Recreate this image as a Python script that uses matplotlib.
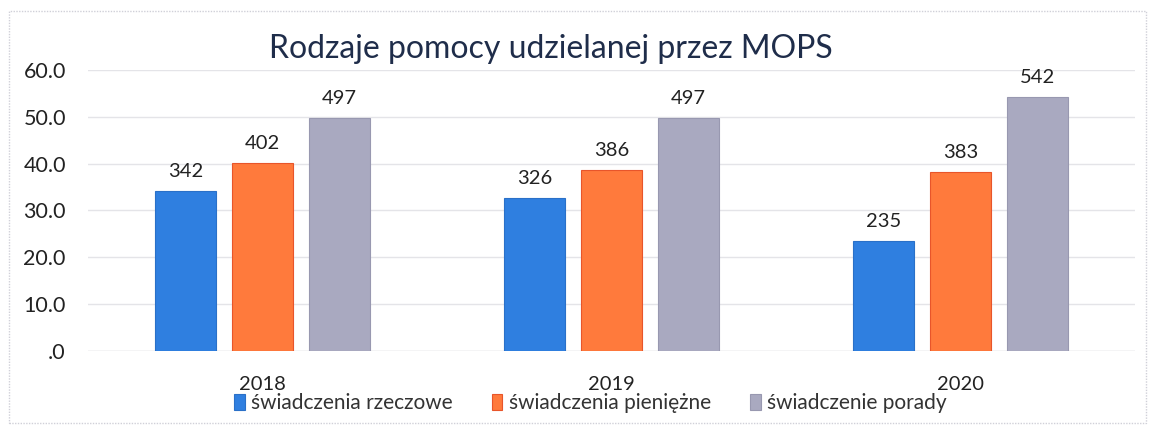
import numpy as np
import matplotlib
matplotlib.use('Agg')
import matplotlib.pyplot as plt
from matplotlib.ticker import FuncFormatter

# ── dane ────────────────────────────────────────────
lata      = ["2018", "2019", "2020"]
serie     = ["świadczenia rzeczowe", "świadczenia pieniężne", "świadczenie porady"]
rzeczowe  = [342, 326, 235]
pieniezne = [402, 386, 383]
porady    = [497, 497, 542]
kolory    = ["#2f7fe0", "#ff7a3c", "#a9a9c0"]
krawedzie = ["#2a70c8", "#e8552a", "#9898b0"]

plt.rcParams['font.family'] = ['Lato', 'DejaVu Sans']

fig = plt.figure(figsize=(11.54, 4.32), dpi=100)
ax = fig.add_axes([0.0763, 0.1875, 0.907, 0.6505])

x = np.arange(len(lata))
w = 0.175
step = 0.22
for i, (vals, c, ec, lab) in enumerate(zip([rzeczowe, pieniezne, porady], kolory, krawedzie, serie)):
    h = np.array(vals) / 10
    bars = ax.bar(x + (i - 1) * step, h, w, color=c, edgecolor=ec, linewidth=0.8, label=lab, zorder=2)
    for b, v in zip(bars, vals):
        ax.annotate(str(v), (b.get_x() + b.get_width() / 2, b.get_height()),
                    xytext=(0, 8), textcoords="offset points", ha="center", va="bottom",
                    fontsize=14.5, color="#222222")

ax.set_xlim(-0.5, 2.5)
ax.set_ylim(0, 60)
ax.set_yticks(np.arange(0, 61, 10))
ax.yaxis.set_major_formatter(FuncFormatter(lambda v, p: ".0" if v == 0 else f"{v:.1f}"))
ax.set_xticks(x)
ax.set_xticklabels(lata)
ax.tick_params(axis="y", length=0, labelsize=15.5, labelcolor="#222222", pad=16)
ax.tick_params(axis="x", length=0, labelsize=14.5, labelcolor="#222222", pad=18)
ax.grid(axis="y", color="#e4e4e8", linewidth=1, zorder=0)
for s in ax.spines.values():
    s.set_visible(False)
ax.axhline(0, color="#dcdce2", linewidth=1, zorder=1)

fig.text(0.477, 0.887, "Rodzaje pomocy udzielanej przez MOPS", ha="center", va="center",
         fontsize=23, color="#1f2d4a")

ax.legend(loc="center", bbox_to_anchor=(0.48, -0.185), ncol=3, frameon=False,
          fontsize=15, handlelength=0.5, handleheight=0.8, handletextpad=0.3,
          columnspacing=1.9, labelcolor="#333333", borderaxespad=0, borderpad=0)

# ramka wykresu
fig.patches.append(plt.Rectangle((0.008, 0.02), 0.985, 0.955, transform=fig.transFigure,
                                 fill=False, edgecolor="#d0d0d8", linewidth=1, linestyle=(0, (1, 1))))

plt.savefig("out.png", dpi=100)
plt.close()
